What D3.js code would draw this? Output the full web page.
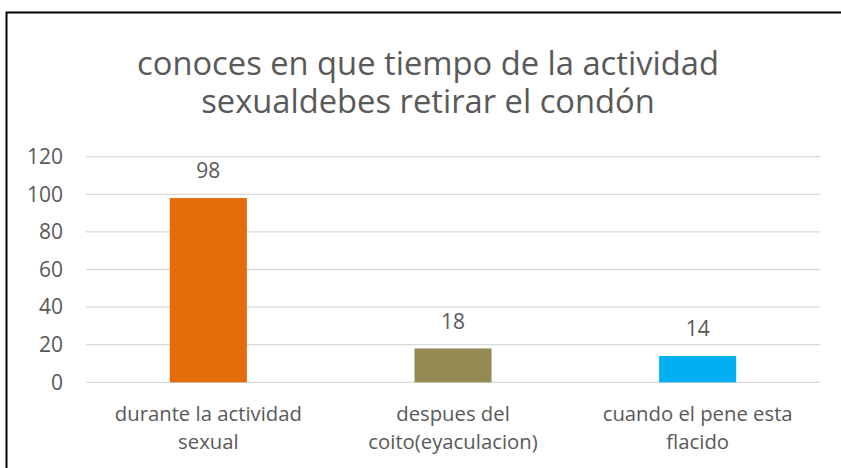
<!DOCTYPE html>
<html>
<head>
<meta charset="utf-8">
<script src="https://cdn.jsdelivr.net/npm/d3@7"></script>
<style>
  body { margin: 0; background: #fff; }
  svg text { font-family: "Open Sans", sans-serif; fill: #595959; }
</style>
</head>
<body>
<div id="chart"></div>
<script>
// Chart data
var categories = [
  ["durante la actividad", "sexual"],
  ["despues del", "coito(eyaculacion)"],
  ["cuando el pene esta", "flacido"]
];
var values = [98, 18, 14];
var barColours = ["#E46C0A", "#948A54", "#00B0F0"];
var yTicks = [0, 20, 40, 60, 80, 100, 120];
var titleLines = ["conoces en que tiempo de la actividad", "sexualdebes retirar el condón"];

var width = 841, height = 468;
var plot = { left: 86, right: 820, top: 156.7, bottom: 382.3 };

var svg = d3.select('#chart').append('svg')
  .attr('width', width)
  .attr('height', height);

// Outer border
svg.append('rect')
  .attr('x', 6.5).attr('y', 12.5)
  .attr('width', 840).attr('height', 470)
  .attr('fill', 'none')
  .attr('stroke', '#000')
  .attr('stroke-width', 2);

// Title
svg.append('text')
  .attr('text-anchor', 'middle')
  .style('font-size', '32.7px')
  .selectAll('tspan')
  .data(titleLines)
  .enter().append('tspan')
    .attr('x', 428)
    .attr('y', function(d, i) { return 75 + i * 38; })
    .text(function(d) { return d; });

var x = d3.scaleBand()
  .domain(d3.range(values.length))
  .range([plot.left, plot.right])
  .paddingInner(0.685)
  .paddingOuter(0.3425);

var y = d3.scaleLinear()
  .domain([0, 120])
  .range([plot.bottom, plot.top]);

// Gridlines
svg.append('g').selectAll('line')
  .data(yTicks)
  .enter().append('line')
    .attr('x1', plot.left).attr('x2', plot.right)
    .attr('y1', function(d) { return y(d); })
    .attr('y2', function(d) { return y(d); })
    .attr('stroke', '#D9D9D9')
    .attr('stroke-width', 1.3);

// Y axis labels
svg.append('g').selectAll('text')
  .data(yTicks)
  .enter().append('text')
    .attr('x', 63)
    .attr('y', function(d) { return y(d); })
    .attr('dy', '0.35em')
    .attr('text-anchor', 'end')
    .style('font-size', '21px')
    .text(function(d) { return d; });

// Bars
svg.append('g').selectAll('rect')
  .data(values)
  .enter().append('rect')
    .attr('x', function(d, i) { return x(i); })
    .attr('y', function(d) { return y(d); })
    .attr('width', x.bandwidth())
    .attr('height', function(d) { return y(0) - y(d); })
    .attr('fill', function(d, i) { return barColours[i]; });

// Value labels
svg.append('g').selectAll('text')
  .data(values)
  .enter().append('text')
    .attr('x', function(d, i) { return x(i) + x.bandwidth() / 2; })
    .attr('y', function(d) { return y(d) - 27; })
    .attr('dy', '0.35em')
    .attr('text-anchor', 'middle')
    .style('font-size', '21px')
    .text(function(d) { return d; });

// Category labels
var catG = svg.append('g').selectAll('text')
  .data(categories)
  .enter().append('text')
    .attr('text-anchor', 'middle')
    .style('font-size', '20.3px');

catG.selectAll('tspan')
  .data(function(d, i) { return d.map(function(t) { return { t: t, i: i }; }); })
  .enter().append('tspan')
    .attr('x', function(d) { return x(d.i) + x.bandwidth() / 2; })
    .attr('y', function(d, j) { return 421 + j * 28; })
    .text(function(d) { return d.t; });
</script>
</body>
</html>
